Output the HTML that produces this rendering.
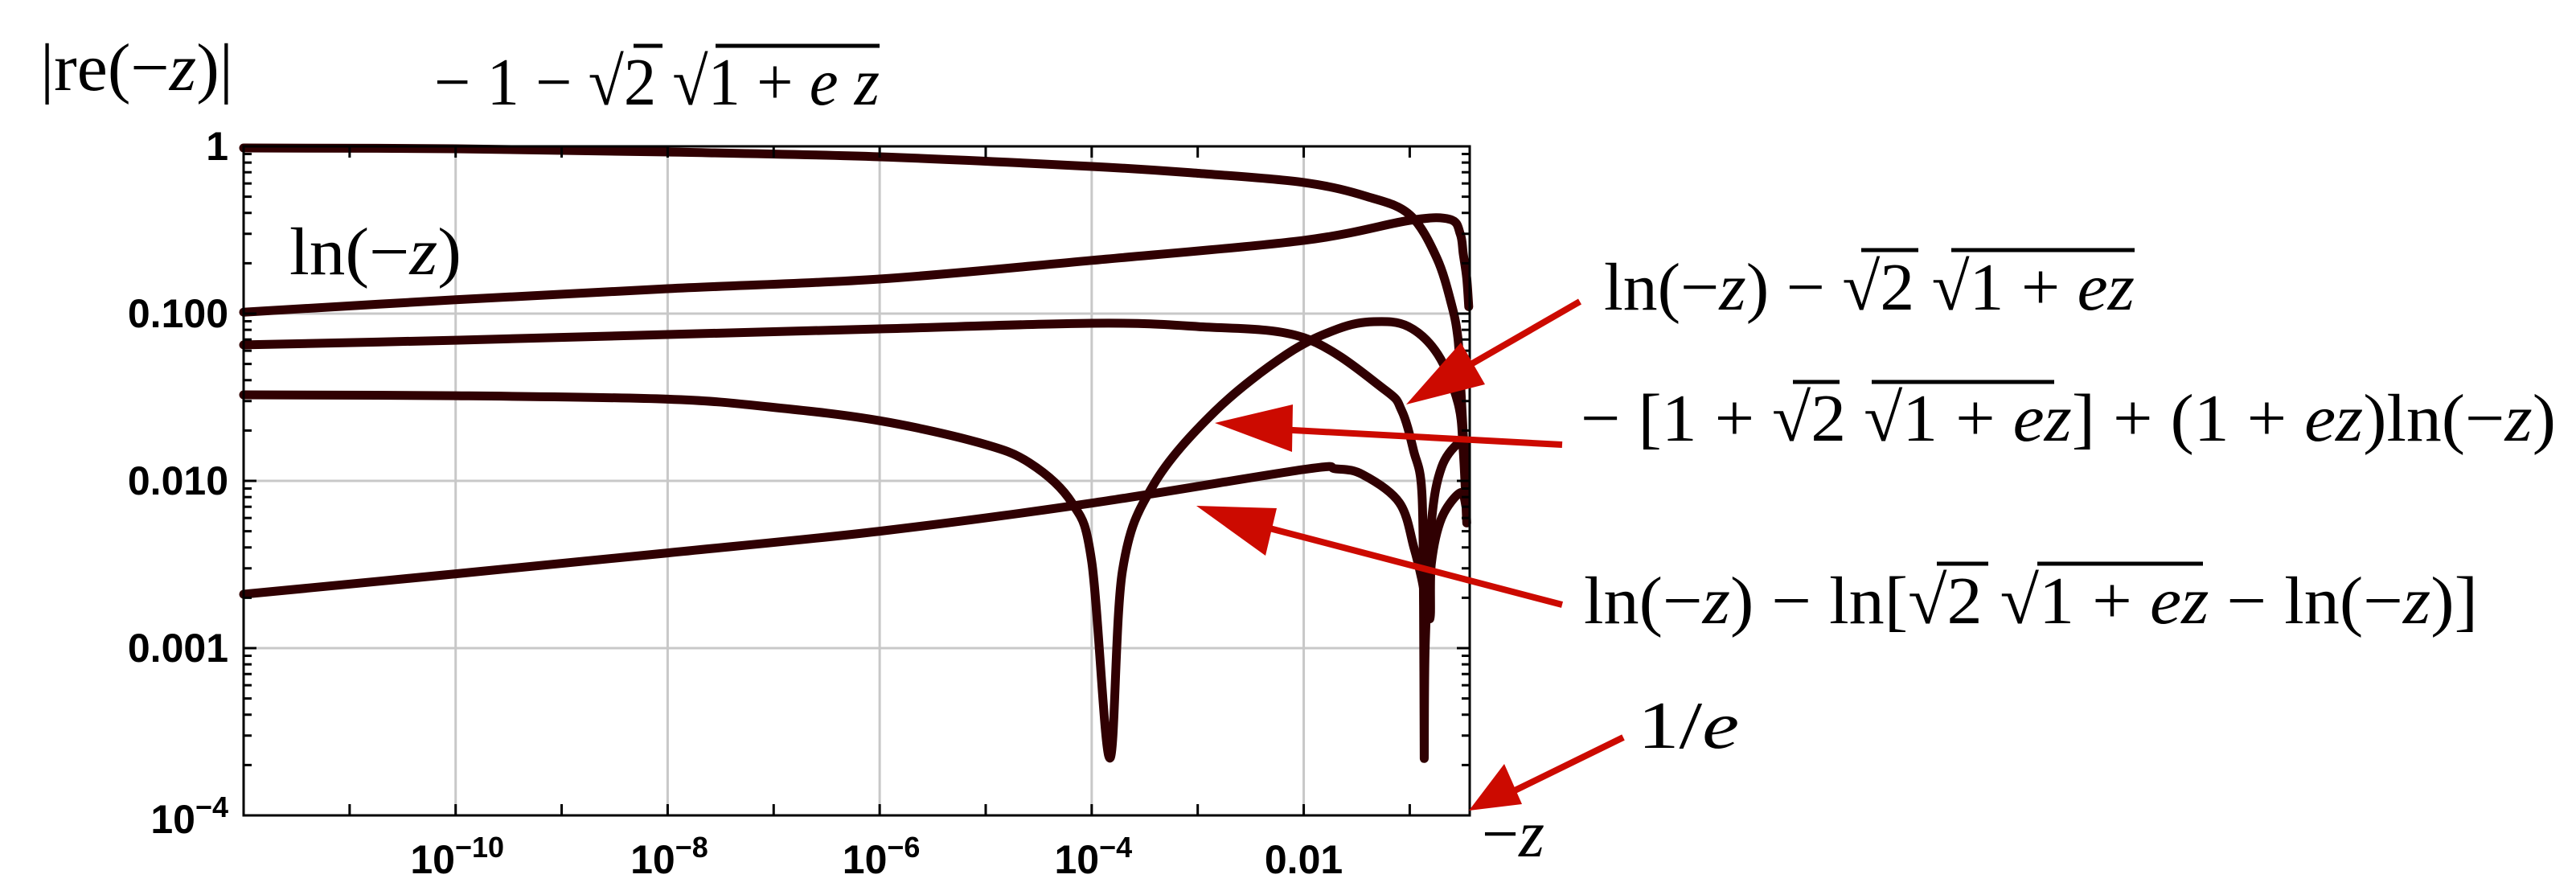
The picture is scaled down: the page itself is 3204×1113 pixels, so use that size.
<!DOCTYPE html>
<html><head><meta charset="utf-8"><style>
html,body{margin:0;padding:0;background:#fff;}
svg{display:block;}
.m{font-family:"Liberation Serif",serif;font-size:84px;fill:#000;}
.t{font-family:"Liberation Sans",sans-serif;font-weight:bold;font-size:50px;fill:#000;}
</style></head><body>
<svg id="chart" width="3204" height="1113" viewBox="0 0 3204 1113" xmlns="http://www.w3.org/2000/svg">
<rect x="0" y="0" width="3204" height="1113" fill="#fff"/>
<g id="grid"></g>
<g id="series"></g>
<g id="axes"></g>
<g id="labels">
  <text class="m" x="50" y="112" textLength="240" lengthAdjust="spacingAndGlyphs">|re(−<tspan font-style="italic">z</tspan>)|</text>
  <text class="m" x="540" y="130" textLength="554" lengthAdjust="spacingAndGlyphs">− 1 − √2 √1 + <tspan font-style="italic">e z</tspan></text>
  <line x1="788" y1="57" x2="824" y2="57" stroke="#000" stroke-width="5"/>
  <line x1="890" y1="57" x2="1094" y2="57" stroke="#000" stroke-width="5"/>
  <text class="m" x="360" y="341" textLength="214" lengthAdjust="spacingAndGlyphs">ln(−<tspan font-style="italic">z</tspan>)</text>
  <text class="m" x="1995" y="385" textLength="660" lengthAdjust="spacingAndGlyphs">ln(−<tspan font-style="italic">z</tspan>) − √2 √1 + <tspan font-style="italic">ez</tspan></text>
  <line x1="2315" y1="311" x2="2386" y2="311" stroke="#000" stroke-width="5"/>
  <line x1="2427" y1="311" x2="2655" y2="311" stroke="#000" stroke-width="5"/>
  <text class="m" x="1966" y="548" textLength="1213" lengthAdjust="spacingAndGlyphs">− [1 + √2 √1 + <tspan font-style="italic">ez</tspan>] + (1 + <tspan font-style="italic">ez</tspan>)ln(−<tspan font-style="italic">z</tspan>)</text>
  <line x1="2230" y1="475" x2="2288" y2="475" stroke="#000" stroke-width="5"/>
  <line x1="2328" y1="475" x2="2555" y2="475" stroke="#000" stroke-width="5"/>
  <text class="m" x="1970" y="775" textLength="1112" lengthAdjust="spacingAndGlyphs">ln(−<tspan font-style="italic">z</tspan>) − ln[√2 √1 + <tspan font-style="italic">ez</tspan> − ln(−<tspan font-style="italic">z</tspan>)]</text>
  <line x1="2409" y1="701" x2="2473" y2="701" stroke="#000" stroke-width="5"/>
  <line x1="2534" y1="701" x2="2740" y2="701" stroke="#000" stroke-width="5"/>
  <text class="m" x="2037" y="930" textLength="126" lengthAdjust="spacingAndGlyphs">1/<tspan font-style="italic">e</tspan></text>
  <text class="m" x="1843" y="1065" textLength="78" lengthAdjust="spacingAndGlyphs">−<tspan font-style="italic">z</tspan></text>
</g>
<g id="arrows" fill="#cc0a00" stroke="#cc0a00">
  <line x1="1965" y1="375" x2="1800" y2="470" stroke-width="8"/>
  <polygon points="1749,503 1817,426 1847,478" stroke="none"/>
  <line x1="1943" y1="553" x2="1590" y2="534" stroke-width="8"/>
  <polygon points="1511,526 1608,503 1607,562" stroke="none"/>
  <line x1="1943" y1="752" x2="1560" y2="652" stroke-width="8"/>
  <polygon points="1488,629 1588,632 1574,691" stroke="none"/>
  <line x1="2019" y1="917" x2="1880" y2="985" stroke-width="8"/>
  <polygon points="1827,1008 1871,950 1893,1000" stroke="none"/>
</g>
</svg>
<script>
const seriesAx = [1e-12,1e-10,1e-8,1e-6,1e-4,1e-3,1e-2,0.04,0.1,0.18,0.25,0.285,0.30,0.32,0.34];
const seriesAy = [0.978,0.967,0.925,0.866,0.758,0.69,0.608,0.50,0.390,0.215,0.111,0.071,0.041,0.019,0.0097];
const seriesBx = [1e-12,1e-10,1e-8,1e-6,1e-4,1e-2,0.1,0.24,0.30,0.32,0.345,0.36];
const seriesBy = [0.102,0.121,0.141,0.161,0.208,0.274,0.361,0.366,0.299,0.227,0.163,0.11];
const seriesCx = [1e-12,1e-10,1e-8,1e-6,1e-4,1e-3,1e-2,0.057,0.084,0.109,0.13,0.135,0.137,0.14,0.16,0.2,0.3,0.34];
const seriesCy = [0.065,0.0693,0.075,0.081,0.0876,0.0837,0.0718,0.0354,0.0263,0.0151,0.0087,0.0018,0.00022,0.00105,0.0056,0.0121,0.0172,0.0159];
const seriesDx = [1e-12,1e-10,1e-8,1e-7,1e-6,8.7e-6,2.6e-5,6.5e-5,1e-4,1.48e-4,1.95e-4,3.8e-4,1.45e-3,6.9e-3,0.021,0.046,0.097,0.184,0.285,0.32,0.345];
const seriesDy = [0.0327,0.0323,0.0308,0.0275,0.0229,0.0169,0.0128,0.0074,0.0033,0.00022,0.0029,0.0094,0.026,0.0571,0.081,0.0895,0.0837,0.0571,0.0293,0.0151,0.0056];
const seriesEx = [1e-12,1e-10,1e-8,1e-6,1e-4,1e-2,0.02,0.036,0.08,0.11,0.13,0.155,0.16,0.2,0.3,0.34];
const seriesEy = [0.0021,0.00278,0.00371,0.005,0.00736,0.0117,0.0118,0.0109,0.0074,0.00395,0.00258,0.0015,0.0032,0.006,0.0085,0.007];
const yTickValues = [1,0.1,0.01,0.001];
const yTickLabels = ["1","0.100","0.010","0.001"];
const xLabelValues = [1e-10,1e-8,1e-6,1e-4];
const xLabelExps = ["−10","−8","−6","−4"];

const NS="http://www.w3.org/2000/svg";
const L=303,R=1828,T=182,B=1014;
const XMIN=-12,XMAX=Math.log10(1/Math.E),YMIN=-4,YMAX=0;
function sx(v){return L+(Math.log10(v)-XMIN)/(XMAX-XMIN)*(R-L);}
function sy(v){return B-(Math.log10(v)-YMIN)/(YMAX-YMIN)*(B-T);}
function mk(tag,attrs,parent){const e=document.createElementNS(NS,tag);for(const k in attrs)e.setAttribute(k,attrs[k]);parent.appendChild(e);return e;}
const grid=document.getElementById('grid'),axes=document.getElementById('axes'),ser=document.getElementById('series');
[1e-10,1e-8,1e-6,1e-4,1e-2].forEach(v=>{const g=mk('line',{x1:sx(v),x2:sx(v),y1:T,y2:B,stroke:'#c8c8c8','stroke-width':3},grid);

});
[0.1,0.01,0.001].forEach(v=>{const g=mk('line',{x1:L,x2:R,y1:sy(v),y2:sy(v),stroke:'#c8c8c8','stroke-width':3},grid);

});
function drawSeries(xs,ys,name){
  const P=xs.map((x,i)=>[sx(x),sy(ys[i])]);
  let d='M'+P[0][0].toFixed(1)+','+P[0][1].toFixed(1);
  for(let i=0;i<P.length-1;i++){
    const p0=P[Math.max(0,i-1)],p1=P[i],p2=P[i+1],p3=P[Math.min(P.length-1,i+2)];
    const c1=[p1[0]+(p2[0]-p0[0])/6,p1[1]+(p2[1]-p0[1])/6];
    const c2=[p2[0]-(p3[0]-p1[0])/6,p2[1]-(p3[1]-p1[1])/6];
    d+='C'+c1[0].toFixed(1)+','+c1[1].toFixed(1)+' '+c2[0].toFixed(1)+','+c2[1].toFixed(1)+' '+p2[0].toFixed(1)+','+p2[1].toFixed(1);
  }
  const p=mk('path',{d:d,fill:'none',stroke:'#300002','stroke-width':11,'stroke-linejoin':'round','stroke-linecap':'round'},ser);
  
  
}
drawSeries(seriesAx,seriesAy,'series-minus-1-sqrt');
drawSeries(seriesBx,seriesBy,'series-ln');
drawSeries(seriesCx,seriesCy,'series-ln-minus-sqrt');
drawSeries(seriesDx,seriesDy,'series-bracket-expression');
drawSeries(seriesEx,seriesEy,'series-ln-minus-ln');
const fr=mk('rect',{x:L,y:T,width:R-L,height:B-T,fill:'none',stroke:'#000','stroke-width':3},axes);


for(let e=-11;e<=-1;e++){const x=sx(Math.pow(10,e));
mk('line',{x1:x,x2:x,y1:B,y2:B-14,stroke:'#000','stroke-width':3},axes);
mk('line',{x1:x,x2:x,y1:T,y2:T+14,stroke:'#000','stroke-width':3},axes);}
for(let e=-4;e<=0;e++){for(let k=1;k<=9;k++){const v=k*Math.pow(10,e);if(v>1)break;const y=sy(v);const len=k==1?16:10;
mk('line',{x1:L,x2:L+len,y1:y,y2:y,stroke:'#000','stroke-width':3},axes);
mk('line',{x1:R,x2:R-len,y1:y,y2:y,stroke:'#000','stroke-width':3},axes);}}
yTickValues.forEach((v,i)=>{const t=mk('text',{x:284,y:sy(v)+17,'text-anchor':'end',class:'t'},axes);t.textContent=yTickLabels[i];

});
const t4=mk('text',{x:284,y:1036,'text-anchor':'end',class:'t'},axes);


t4.innerHTML='10<tspan dy="-20" font-size="36">−4</tspan>';
xLabelValues.forEach((v,i)=>{const t=mk('text',{x:sx(v)+2,y:1086,'text-anchor':'middle',class:'t'},axes);


t.innerHTML='10<tspan dy="-20" font-size="36">'+xLabelExps[i]+'</tspan>';});
const t01=mk('text',{x:sx(0.01),y:1086,'text-anchor':'middle',class:'t'},axes);t01.textContent='0.01';


</script>
</body></html>
